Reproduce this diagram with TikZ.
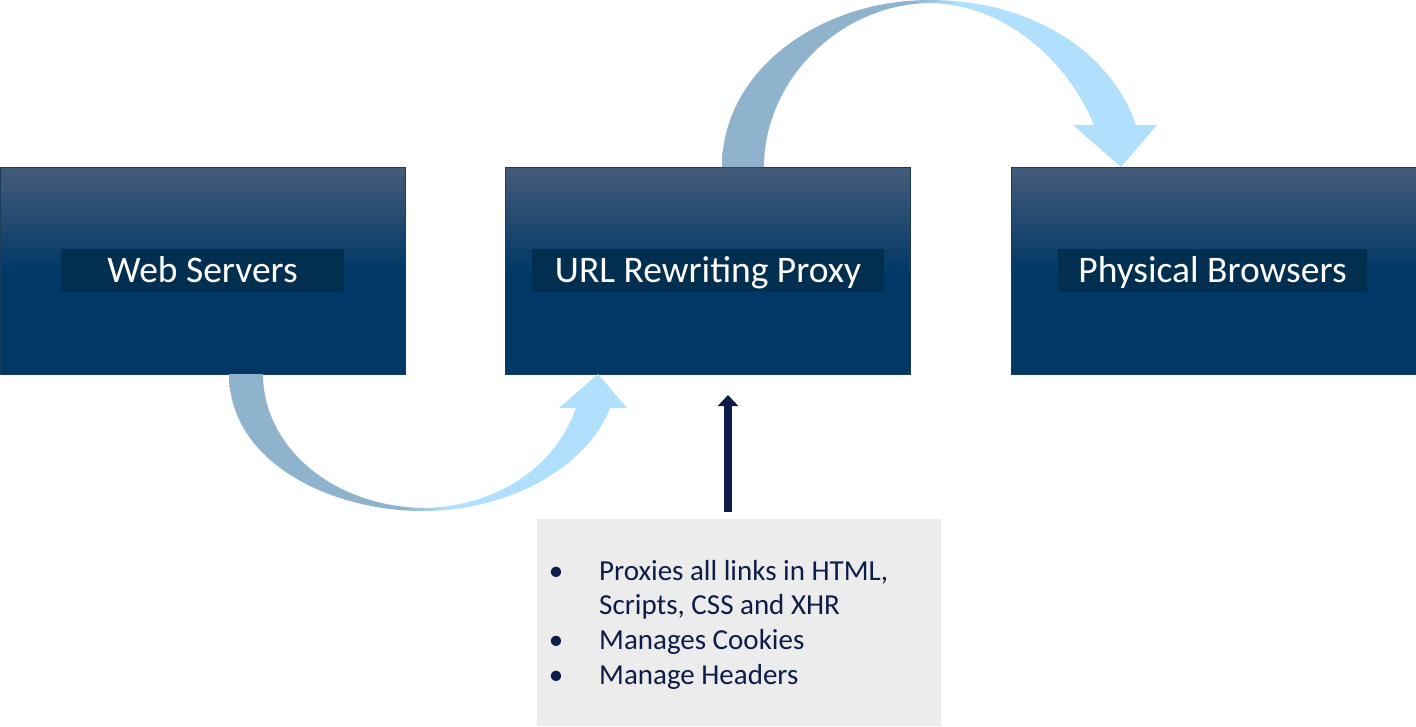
\documentclass[tikz,border=0pt]{standalone}
\usepackage{fontspec}
\setmainfont{Carlito}
\usetikzlibrary{arrows.meta}
\definecolor{boxlt}{HTML}{465B7B}
\definecolor{boxdk}{HTML}{013966}
\definecolor{boxln}{HTML}{1A3D5E}
\definecolor{lblfill}{HTML}{022E4F}
\definecolor{arrA}{HTML}{8FB3CD}
\definecolor{arrB}{HTML}{B0E0FC}
\definecolor{navy}{HTML}{0E1C48}
\definecolor{greybg}{HTML}{ECECEC}
\pgfdeclareverticalshading{boxshade}{100bp}{color(0bp)=(boxdk); color(25bp)=(boxdk); color(50bp)=(boxdk); color(75bp)=(boxlt); color(100bp)=(boxlt)}
\pgfdeclarehorizontalshading{arrshade}{100bp}{color(0bp)=(arrA); color(25bp)=(arrA); color(47bp)=(arrA); color(52bp)=(arrB); color(75bp)=(arrB); color(100bp)=(arrB)}
\tikzset{
  srvbox/.style={draw=boxln, line width=1pt, shading=boxshade, minimum width=405, minimum height=207, inner sep=0},
  lbl/.style={fill=lblfill, text=white, font=\fontsize{37.5}{45}\selectfont, inner sep=0, minimum height=43, text height=27, text depth=4},
  bul/.style={text=navy, font=\fontsize{29}{35}\selectfont, inner sep=0, anchor=base west},
  dot/.style={text=navy, font=\fontsize{29}{35}\selectfont, inner sep=0, anchor=base},
  curvarr/.style={shading=arrshade, draw=none},
}
\begin{document}
\begin{tikzpicture}[x=1pt,y=-1pt]
\useasboundingbox (0,0) rectangle (1416,726);
% boxes
\node[srvbox] (ws) at (202.5,270.5) {};
\node[srvbox] (px) at (707.5,270.5) {};
\node[srvbox] (pb) at (1213.5,270.5) {};
\node[lbl, minimum width=283] (wsl) at (202.5,270.5) {Web Servers};
\node[lbl, minimum width=352] (pxl) at (708,270.5) {URL Rewriting Proxy};
\node[lbl, minimum width=309] (pbl) at (1212.5,270.5) {Physical Browsers};
% bottom curved arrow: Web Servers -> Proxy
\shade[curvarr] (229,374) .. controls (229,462) and (330,511) .. (423,511)
  .. controls (515,511) and (590,462) .. (610,408) -- (627,408) -- (598,374) -- (559,408) -- (576,408)
  .. controls (555,468) and (495,507) .. (423,508)
  .. controls (330,506) and (263,445) .. (263,374) -- cycle;
% top curved arrow: Proxy -> Physical Browsers
\shade[curvarr] (722,167) .. controls (722,70) and (820,0) .. (930,0)
  .. controls (1030,0) and (1110,50) .. (1136,125) -- (1157,125) -- (1121,167) -- (1073,125) -- (1094,125)
  .. controls (1065,55) and (1000,4) .. (930,3)
  .. controls (840,4) and (764,80) .. (764,167) -- cycle;
% grey note box
\node[fill=greybg, minimum width=404, minimum height=207, inner sep=0] (note) at (739,622.5) {};
\coordinate (notetop) at (728,512);
\coordinate (pxbot) at (728,395);
\draw[navy, line width=8pt, -{Triangle[width=20pt,length=11pt]}] (notetop) -- (pxbot);
% bullets
\node[dot] (d1) at (556,580) {\textbullet};
\node[bul] (t1) at (599,580) {Proxies all links in HTML,};
\node[bul] (t2) at (599,614) {Scripts, CSS and XHR};
\node[dot] (d3) at (556,649) {\textbullet};
\node[bul] (t3) at (599,649) {Manages Cookies};
\node[dot] (d4) at (556,684) {\textbullet};
\node[bul] (t4) at (599,684) {Manage Headers};
\end{tikzpicture}
\end{document}
